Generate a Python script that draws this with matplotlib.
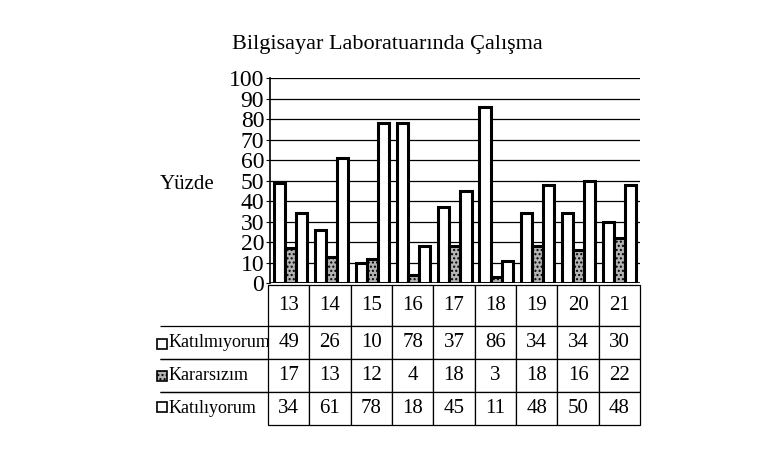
import matplotlib.pyplot as plt
import numpy as np
from matplotlib.patches import Rectangle

plt.rcParams['font.family'] = ['Liberation Serif', 'DejaVu Serif']

categories = ['13', '14', '15', '16', '17', '18', '19', '20', '21']
series_names = ['Katılmıyorum', 'Kararsızım', 'Katılıyorum']
katilmiyorum = [49, 26, 10, 78, 37, 86, 34, 34, 30]
kararsizim = [17, 13, 12, 4, 18, 3, 18, 16, 22]
katiliyorum = [34, 61, 78, 18, 45, 11, 48, 50, 48]

colors = ['white', '#b4b4b4', 'white']

fig = plt.figure(figsize=(7.62, 4.59), dpi=100)
ax = fig.add_axes([0.354, 0.383, 0.486, 0.447])

x = np.arange(len(categories))
w = 0.27
series = [katilmiyorum, kararsizim, katiliyorum]
for k, vals in enumerate(series):
    ax.bar(x + (k - 1) * w, vals, width=w, color=colors[k],
           edgecolor='black', linewidth=2.2, zorder=3,
           hatch='....' if k == 1 else None)

ax.set_xlim(-0.5, len(categories) - 0.5)
ax.set_ylim(0, 100)
ax.set_yticks(range(0, 101, 10))
ax.tick_params(axis='y', labelsize=17, length=3, pad=1)
ax.set_xticks([])
ax.yaxis.grid(True, color='black', linewidth=0.9, zorder=0)
for s in ['top', 'right', 'bottom']:
    ax.spines[s].set_visible(False)
ax.spines['left'].set_linewidth(1.2)
ax.axhline(0, color='black', linewidth=1.2)

fig.text(0.509, 0.902, 'Bilgisayar Laboratuarında Çalışma', ha='center',
         va='center', fontsize=16)
fig.text(0.246, 0.598, 'Yüzde', ha='center', va='center', fontsize=15)

# data table under the chart
rows = [[''] + categories]
for name, vals in zip(series_names, series):
    rows.append([name] + [str(v) for v in vals])
col_w = [108] + [41.3] * len(categories)
tab = ax.table(cellText=rows, colWidths=col_w, cellLoc='center',
               bbox=[-0.297, -0.693, 1.297, 0.683])
tab.auto_set_font_size(False)
for (r, c), cell in tab.get_celld().items():
    cell.set_fontsize(15)
    cell.set_linewidth(0.9)
    cell.set_height(40 if r == 0 else 32)
    if c == 0:
        cell.PAD = 0.085
        cell.set_fontsize(13)
        cell._loc = 'left'
        cell.set_text_props(ha='left')
        if r == 0:
            cell.visible_edges = ''
        elif r == 3:
            cell.visible_edges = 'T'
        else:
            cell.visible_edges = 'TB'

# legend keys in the row labels
for i, fc in enumerate(colors):
    yc = 1 - (344 + i * 31.5) / 459
    fig.patches.append(Rectangle((157 / 762, yc - 5 / 459), 10 / 762, 10 / 459,
                                 transform=fig.transFigure, facecolor=fc,
                                 edgecolor='black', linewidth=1.2,
                                 hatch='....' if i == 1 else None))

fig.savefig('out.png', dpi=100)
